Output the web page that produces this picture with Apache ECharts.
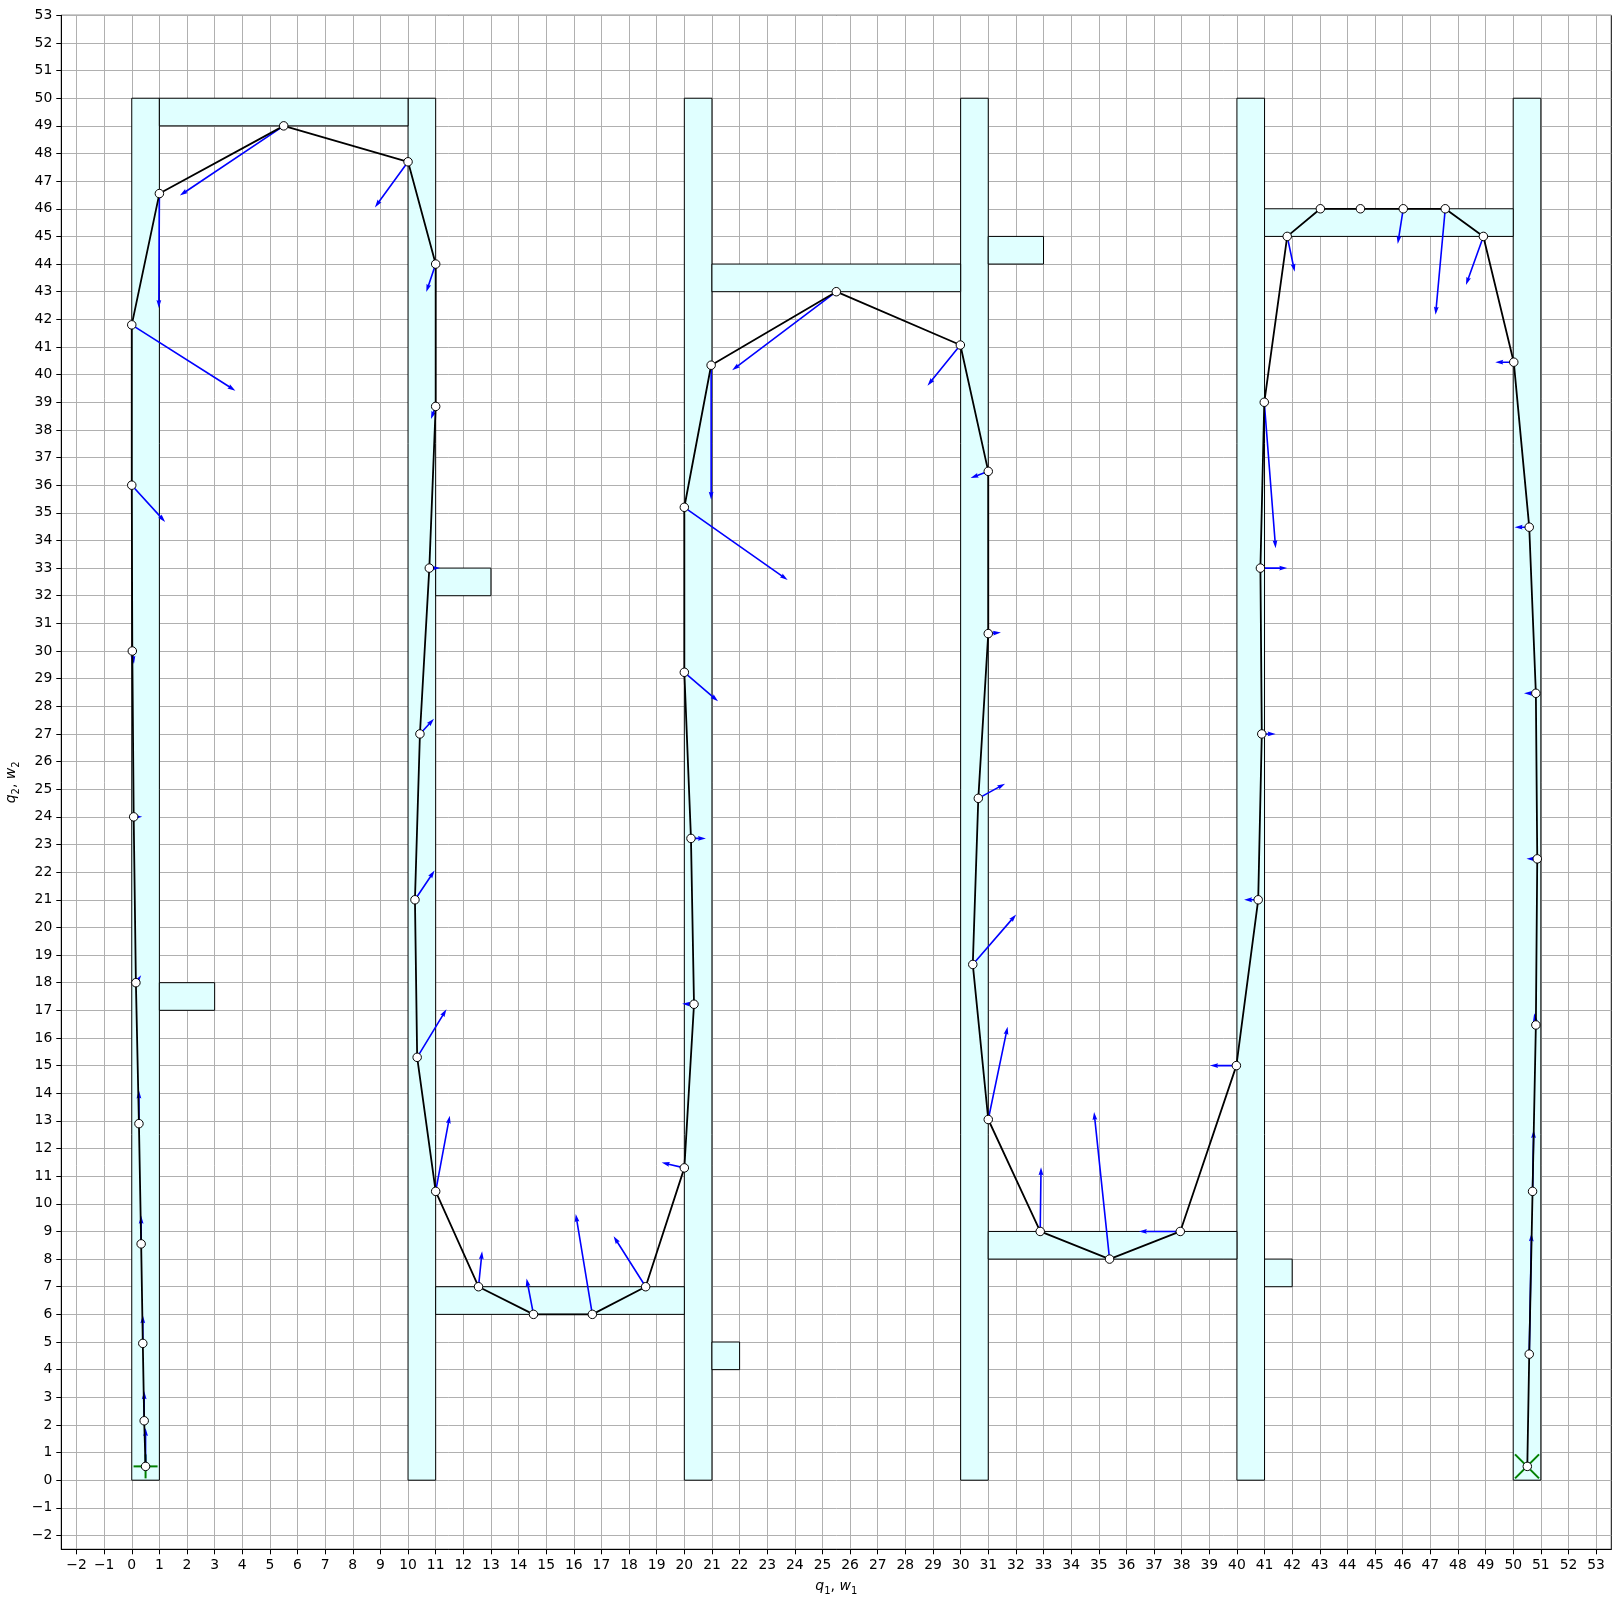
<!DOCTYPE html>
<html>
<head>
<meta charset="utf-8">
<script src="https://cdn.jsdelivr.net/npm/echarts@6/dist/echarts.min.js"></script>
<style>html,body{margin:0;padding:0;background:#fff;}#c{width:1620px;height:1603px;}</style>
</head>
<body>
<div id="c"></div>
<script>
// Obstacles / corridors: [x1, x2, y1, y2]
const boxes = [
  [0,1,0,50],[10,11,0,50],[20,21,0,50],[30,31,0,50],[40,41,0,50],[50,51,0,50],
  [1,10,49,50],[1,3,17,18],[11,13,32,33],[11,20,6,7],[21,22,4,5],
  [21,30,43,44],[31,33,44,45],[31,40,8,9],[41,42,7,8],[41,50,45,46]
];
// Path points q1 (x) and q2 (y)
const pathX = [0.5,0.45,0.4,0.34,0.26,0.15,0.07,0.02,0.0,0.0,1.0,5.5,10.0,11.0,11.0,10.77,10.43,10.25,10.33,11.0,
  12.55,14.54,16.67,18.6,20.0,20.35,20.24,20.0,20.0,20.97,25.5,29.99,31.0,31.0,30.64,30.44,31.0,32.88,35.39,37.95,
  39.98,40.77,40.9,40.85,40.99,41.82,43.02,44.47,46.02,47.54,48.92,50.02,50.58,50.82,50.87,50.82,50.7,50.58,50.51];
const pathY = [0.5,2.15,4.95,8.55,12.9,18.0,24.0,30.0,36.0,41.8,46.55,49.0,47.7,44.0,38.85,33.0,27.0,21.0,15.3,10.45,
  7.0,6.0,6.0,7.0,11.3,17.22,23.22,29.23,35.2,40.34,43.0,41.07,36.5,30.63,24.67,18.66,13.05,9.0,8.0,9.0,
  15.0,21.0,27.0,33.0,39.0,45.0,46.0,46.0,46.0,46.0,45.0,40.45,34.48,28.47,22.48,16.47,10.45,4.56,0.5];
// Arrow components w1 (u) and w2 (v) at each path point
const arrowU = [0,0,0,0,0,0.19,0.31,0.06,1.21,3.75,-0.02,-3.76,-1.2,-0.34,-0.17,0.39,0.51,0.71,1.06,0.51,
  0.13,-0.25,-0.6,-1.16,-0.82,-0.43,0.54,1.22,3.74,0,-3.77,-1.19,-0.64,0.46,0.97,1.57,0.7,0.03,-0.56,-1.5,
  -0.95,-0.51,0.5,0.97,0.41,0.27,0.2,0,-0.2,-0.35,-0.63,-0.67,-0.53,-0.43,-0.39,-0.06,0.04,0.08,0];
const arrowV = [1.39,1.07,1.02,1.02,1.2,0.27,0,-0.47,-1.33,-2.38,-4.14,-2.52,-1.65,-1.01,-0.46,0,0.55,1.06,1.74,2.74,
  1.28,1.3,3.63,1.83,0.19,0.02,0,-1.05,-2.63,-4.87,-2.84,-1.47,-0.24,0.04,0.53,1.81,3.36,2.32,5.32,0,
  0,0,0,0,-5.28,-1.28,0,0,-1.27,-3.83,-1.76,0,0,0,0,0.42,2.22,4.37,0];
// Start and goal markers
const startPt = [0.5, 0.5];
const goalPt = [50.5, 0.5];
// Tick values
const xTicks = []; for (let v = -2; v <= 53; v++) xTicks.push(v);
const yTicks = []; for (let v = -2; v <= 53; v++) yTicks.push(v);

const FONT = 'DejaVu Sans';
const fmt = v => String(v).replace('-', '\u2212');

const chart = echarts.init(document.getElementById('c'), null, {renderer: 'canvas'});

const nameRich = {
  i: {fontFamily: FONT, fontStyle: 'italic', fontSize: 14, color: '#000', lineHeight: 20, verticalAlign: 'middle'},
  n: {fontFamily: FONT, fontSize: 14, color: '#000', lineHeight: 20, verticalAlign: 'middle'},
  s: {fontFamily: FONT, fontSize: 10, color: '#000', lineHeight: 20, verticalAlign: 'bottom'}
};

function axisCommon(ticks) {
  return {
    type: 'value',
    axisLine: {show: true, onZero: false, lineStyle: {color: '#000', width: 1}},
    axisTick: {show: true, inside: false, length: 5, lineStyle: {color: '#000', width: 1}, customValues: ticks},
    axisLabel: {show: true, margin: 9, fontFamily: FONT, fontSize: 13.9, color: '#000', customValues: ticks, formatter: fmt, hideOverlap: false, showMinLabel: true, showMaxLabel: true},
    splitLine: {show: true, lineStyle: {color: '#b0b0b0', width: 1}}
  };
}

const arrowData = pathX.map((x, i) => [x, pathY[i], arrowU[i], arrowV[i]]);

const option = {
  animation: false,
  backgroundColor: '#fff',
  grid: {left: 61.3, top: 15.3, width: 1550, height: 1534, show: true, borderColor: '#000', borderWidth: 1,
    backgroundColor: 'transparent', containLabel: false, outerBoundsMode: 'none'},
  xAxis: Object.assign(axisCommon(xTicks), {
    min: -2.55, max: 53.55,
    name: '{i|q}{s|1}{n|, }{i|w}{s|1}',
    nameLocation: 'middle', nameGap: 27,
    nameTextStyle: {rich: nameRich}
  }),
  yAxis: Object.assign(axisCommon(yTicks), {
    min: -2.5, max: 53,
    name: '{i|q}{s|2}{n|, }{i|w}{s|2}',
    nameLocation: 'middle', nameGap: 35, nameRotate: 90,
    nameTextStyle: {rich: nameRich}
  }),
  series: [
    {
      type: 'custom', name: 'boxes', z: 1, silent: true,
      data: boxes,
      encode: {x: [0, 1], y: [2, 3]},
      renderItem: function (params, api) {
        const a = api.coord([api.value(0), api.value(3)]);
        const b = api.coord([api.value(1), api.value(2)]);
        return {type: 'rect', shape: {x: a[0], y: a[1], width: b[0] - a[0], height: b[1] - a[1]},
          style: {fill: '#e0ffff', stroke: '#000', lineWidth: 1}};
      }
    },
    {
      type: 'custom', name: 'markers', z: 2, silent: true,
      data: [[startPt[0], startPt[1], 0], [goalPt[0], goalPt[1], 1]],
      encode: {x: 0, y: 1},
      renderItem: function (params, api) {
        const p = api.coord([api.value(0), api.value(1)]);
        const h = 12;
        const st = {stroke: '#008000', lineWidth: 2};
        let lines;
        if (api.value(2) === 0) {
          lines = [[p[0] - h, p[1], p[0] + h, p[1]], [p[0], p[1] - h, p[0], p[1] + h]];
        } else {
          lines = [[p[0] - h, p[1] - h, p[0] + h, p[1] + h], [p[0] - h, p[1] + h, p[0] + h, p[1] - h]];
        }
        return {type: 'group', children: lines.map(l => ({type: 'line', shape: {x1: l[0], y1: l[1], x2: l[2], y2: l[3]}, style: st}))};
      }
    },
    {
      type: 'custom', name: 'arrows', z: 3, silent: true,
      data: arrowData,
      encode: {x: 0, y: 1},
      renderItem: function (params, api) {
        const x = api.value(0), y = api.value(1), u = api.value(2), v = api.value(3);
        const p0 = api.coord([x, y]);
        const p1 = api.coord([x + u, y + v]);
        const dx = p1[0] - p0[0], dy = p1[1] - p0[1];
        const L = Math.sqrt(dx * dx + dy * dy);
        if (L < 0.5) return null;
        let w = 1.6, hl = 5 * w, hal = 4.5 * w, hw = 3 * w;
        let len = L;
        let s = 1;
        if (L < hl) { s = L / hl; len = hl; }
        const local = [[0, -w / 2], [len - hal, -w / 2], [len - hl, -hw / 2], [len, 0], [len - hl, hw / 2], [len - hal, w / 2], [0, w / 2]];
        const c = dx / L, sn = dy / L;
        const pts = local.map(q => {
          const lx = q[0] * s, ly = q[1] * s;
          return [p0[0] + lx * c - ly * sn, p0[1] + lx * sn + ly * c];
        });
        return {type: 'polygon', shape: {points: pts}, style: {fill: '#0000ff'}};
      }
    },
    {
      type: 'line', name: 'path', z: 4, silent: true,
      data: pathX.map((x, i) => [x, pathY[i]]),
      showSymbol: true, showAllSymbol: true,
      symbol: 'circle', symbolSize: 8.5,
      itemStyle: {color: '#fff', borderColor: '#000', borderWidth: 1},
      lineStyle: {color: '#000', width: 1.8},
      emphasis: {disabled: true}
    }
  ]
};
chart.setOption(option);
</script>
</body>
</html>
